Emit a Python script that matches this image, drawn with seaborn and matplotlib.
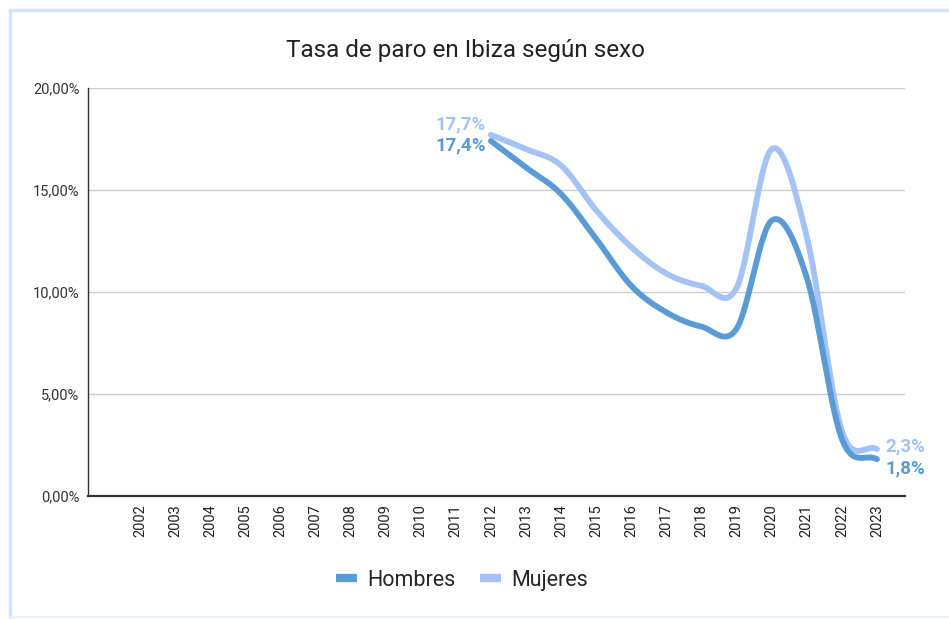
import numpy as np
import pandas as pd
import matplotlib
matplotlib.use('Agg')
import matplotlib.pyplot as plt
import seaborn as sns
from matplotlib.lines import Line2D

# Datos
anios = ['2002', '2003', '2004', '2005', '2006', '2007', '2008', '2009', '2010', '2011', '2012',
         '2013', '2014', '2015', '2016', '2017', '2018', '2019', '2020', '2021', '2022', '2023']
anios_datos = ['2012', '2013', '2014', '2015', '2016', '2017', '2018', '2019', '2020', '2021', '2022', '2023']
hombres = [17.4, 16.1, 14.8, 12.6, 10.3, 9.0, 8.3, 8.2, 13.5, 10.7, 2.8, 1.8]
mujeres = [17.7, 17.0, 16.2, 14.0, 12.2, 10.9, 10.3, 10.2, 17.0, 12.7, 3.2, 2.3]
yticks = [0, 5, 10, 15, 20]

col_h = '#5a9bd5'
col_m = '#a4c2f4'


def suavizar(x, y, n=30):
    # curva tipo Catmull-Rom para imitar la línea suavizada
    x = np.asarray(x, float)
    y = np.asarray(y, float)
    m = np.gradient(y, x)
    xs, ys = [], []
    for i in range(len(x) - 1):
        t = np.linspace(0, 1, n, endpoint=False)
        h = x[i + 1] - x[i]
        h00 = 2 * t**3 - 3 * t**2 + 1
        h10 = t**3 - 2 * t**2 + t
        h01 = -2 * t**3 + 3 * t**2
        h11 = t**3 - t**2
        xs.append(x[i] + t * h)
        ys.append(h00 * y[i] + h10 * h * m[i] + h01 * y[i + 1] + h11 * h * m[i + 1])
    xs.append([x[-1]])
    ys.append([y[-1]])
    return np.concatenate(xs), np.concatenate(ys)


pos = [anios.index(a) for a in anios_datos]
filas = []
for nombre, vals in [('Hombres', hombres), ('Mujeres', mujeres)]:
    xs, ys = suavizar(pos, vals)
    filas.append(pd.DataFrame({'x': xs, 'tasa': ys, 'sexo': nombre}))
df = pd.concat(filas, ignore_index=True)

sns.set_style('white')
plt.rcParams['font.family'] = ['Roboto', 'DejaVu Sans']

fig = plt.figure(figsize=(9.49, 6.19), dpi=100)
ax = fig.add_axes([0.0927, 0.1987, 0.861, 0.6593])

sns.lineplot(data=df, x='x', y='tasa', hue='sexo', hue_order=['Mujeres', 'Hombres'],
             palette={'Hombres': col_h, 'Mujeres': col_m}, linewidth=4.2,
             solid_capstyle='round', ax=ax, legend=False)

ax.set_xlim(-1.48, 21.8)
ax.set_ylim(0, 20)
ax.set_yticks(yticks)
ax.set_yticklabels([f'{v:.2f}%'.replace('.', ',') for v in yticks], fontsize=10.5, color='#333333')
ax.set_xticks(range(len(anios)))
ax.set_xticklabels(anios, rotation=90, fontsize=10.5, color='#222222')
ax.tick_params(axis='both', length=0, pad=6)
ax.grid(axis='y', color='#cccccc', linewidth=1)
ax.set_axisbelow(True)
for s in ['top', 'right']:
    ax.spines[s].set_visible(False)
ax.spines['left'].set_color('#333333')
ax.spines['left'].set_linewidth(1)
ax.spines['bottom'].set_color('#333333')
ax.spines['bottom'].set_linewidth(1.6)
ax.set_xlabel('')
ax.set_ylabel('')

# Etiquetas de datos
def fmt(v):
    return f'{v:.1f}%'.replace('.', ',')

i0 = pos[0]
ax.text(i0 - 0.15, mujeres[0] + 0.5, fmt(mujeres[0]), color=col_m,
        fontsize=13.5, fontweight='bold', ha='right', va='center')
ax.text(i0 - 0.15, hombres[0] - 0.2, fmt(hombres[0]), color=col_h,
        fontsize=13.5, fontweight='bold', ha='right', va='center')
i1 = pos[-1]
ax.text(i1 + 0.23, mujeres[-1] + 0.15, fmt(mujeres[-1]), color=col_m,
        fontsize=13.5, fontweight='bold', ha='left', va='center')
ax.text(i1 + 0.23, hombres[-1] - 0.43, fmt(hombres[-1]), color=col_h,
        fontsize=13.5, fontweight='bold', ha='left', va='center')

fig.text(0.491, 0.919, 'Tasa de paro en Ibiza según sexo', ha='center', va='center',
         fontsize=17.5, color='#222222')

# Leyenda
handles = [Line2D([0], [0], color=col_h, linewidth=6, solid_capstyle='butt'),
           Line2D([0], [0], color=col_m, linewidth=6, solid_capstyle='butt')]
fig.legend(handles, ['Hombres', 'Mujeres'], loc='center', bbox_to_anchor=(0.487, 0.063),
           ncol=2, frameon=False, fontsize=15.5, handlelength=0.95, columnspacing=1.15,
           handletextpad=0.5)

# Marco exterior
borde = '#d2e5fb'
fig.add_artist(Line2D([10 / 949, 10 / 949], [1 - 10 / 619, 1 - 617 / 619],
                      transform=fig.transFigure, color=borde, linewidth=2.5))
fig.add_artist(Line2D([10 / 949, 1], [1 - 10 / 619, 1 - 10 / 619],
                      transform=fig.transFigure, color=borde, linewidth=2.5))
fig.add_artist(Line2D([10 / 949, 1], [1 - 617 / 619, 1 - 617 / 619],
                      transform=fig.transFigure, color='#e8f1fc', linewidth=1.5))

fig.savefig('out.png', dpi=100)
